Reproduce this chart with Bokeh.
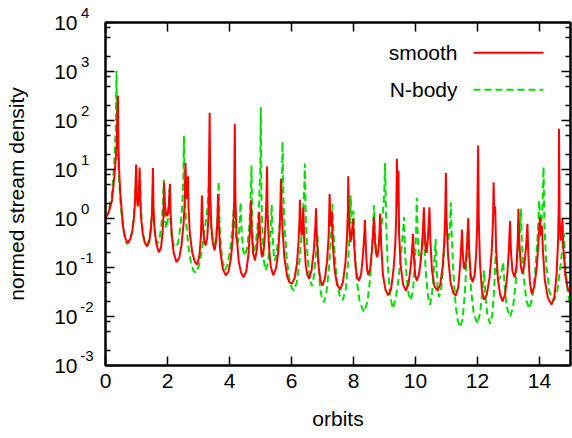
from bokeh.plotting import figure
from bokeh.models import (LogAxis, LinearAxis, FixedTicker, Label, Arrow,
                          CustomJSTickFormatter)
from bokeh.embed import file_html
from bokeh.resources import INLINE

# ---- data: (x in orbits, log10 of normed stream density) ----
smooth_points = [
    (0.00, 0.00), (0.10, 0.12), (0.21, 0.37), (0.30, 0.95), (0.36, 1.50), (0.40, 2.51), (0.42, 1.40),
    (0.45, 0.85), (0.48, 0.51), (0.53, 0.10), (0.57, -0.18), (0.64, -0.40), (0.72, -0.50), (0.80, -0.42),
    (0.86, -0.28), (0.91, -0.05), (0.95, 0.30), (0.99, 1.10), (1.01, 0.45), (1.04, 0.25), (1.07, 0.40),
    (1.10, 1.04), (1.12, 0.40), (1.15, 0.00), (1.20, -0.30), (1.27, -0.50), (1.34, -0.57), (1.41, -0.48),
    (1.46, -0.25), (1.50, 0.10), (1.53, 1.03), (1.55, 0.20), (1.58, -0.20), (1.64, -0.52), (1.72, -0.69),
    (1.79, -0.60), (1.84, -0.30), (1.87, 0.05), (1.89, 0.74), (1.92, 0.25), (1.96, 0.06), (2.00, 0.06),
    (2.04, 0.25), (2.08, 0.71), (2.10, 0.10), (2.14, -0.35), (2.20, -0.70), (2.29, -0.89), (2.38, -0.80),
    (2.45, -0.55), (2.52, -0.10), (2.56, 0.40), (2.58, 1.13), (2.61, 0.45), (2.64, 0.40), (2.66, 0.86),
    (2.68, 0.20), (2.72, -0.30), (2.80, -0.70), (2.88, -0.88), (2.96, -0.94), (3.03, -0.75), (3.08, -0.35),
    (3.11, 0.47), (3.14, -0.15), (3.19, -0.48), (3.23, -0.55), (3.28, -0.40), (3.32, 0.00), (3.36, 2.16),
    (3.38, 0.50), (3.41, -0.10), (3.46, -0.50), (3.52, -0.65), (3.57, -0.45), (3.61, -0.05), (3.63, 0.50),
    (3.66, -0.15), (3.70, -0.65), (3.78, -1.02), (3.88, -1.16), (3.97, -1.08), (4.05, -0.80), (4.11, -0.35),
    (4.15, 0.30), (4.17, 1.93), (4.19, 0.40), (4.23, -0.35), (4.30, -0.88), (4.37, -1.10), (4.45, -1.20),
    (4.54, -1.08), (4.61, -0.75), (4.66, -0.25), (4.69, 0.37), (4.72, -0.30), (4.76, -0.70), (4.82, -0.86),
    (4.88, -0.65), (4.93, -0.25), (4.96, 0.13), (4.99, -0.40), (5.03, -0.72), (5.06, -0.79), (5.11, -0.60),
    (5.16, -0.15), (5.19, 0.40), (5.21, 1.06), (5.23, 0.10), (5.27, -0.55), (5.33, -0.98), (5.41, -1.16),
    (5.50, -1.02), (5.57, -0.70), (5.62, -0.20), (5.64, 0.25), (5.66, 0.81), (5.68, 0.25), (5.71, -0.20),
    (5.77, -0.80), (5.86, -1.18), (5.93, -1.30), (6.01, -1.33), (6.10, -1.22), (6.18, -0.90), (6.23, -0.45),
    (6.26, 0.00), (6.27, 0.38), (6.30, -0.15), (6.33, -0.35), (6.36, -0.15), (6.38, 0.23), (6.41, -0.45),
    (6.46, -0.95), (6.51, -1.15), (6.57, -1.23), (6.65, -1.05), (6.72, -0.65), (6.77, -0.15), (6.79, 0.21),
    (6.82, -0.40), (6.87, -0.95), (6.93, -1.25), (7.00, -1.37), (7.08, -1.22), (7.15, -0.85), (7.20, -0.35),
    (7.23, 0.50), (7.26, -0.15), (7.28, -0.10), (7.30, 0.13), (7.33, -0.50), (7.39, -1.05), (7.47, -1.35),
    (7.57, -1.45), (7.66, -1.30), (7.74, -0.90), (7.79, -0.40), (7.82, 0.20), (7.83, 0.86), (7.86, -0.10),
    (7.90, -0.48), (7.93, -0.40), (7.97, -0.15), (7.99, 0.00), (8.02, -0.55), (8.07, -1.00), (8.12, -1.20),
    (8.18, -1.27), (8.25, -1.12), (8.31, -0.70), (8.35, -0.30), (8.37, -0.03), (8.40, -0.65), (8.44, -1.05),
    (8.48, -1.16), (8.54, -1.02), (8.60, -0.60), (8.64, -0.20), (8.66, 0.03), (8.69, -0.45), (8.73, -0.72),
    (8.77, -0.79), (8.81, -0.60), (8.84, -0.25), (8.86, 0.10), (8.89, -0.50), (8.95, -1.15), (9.03, -1.45),
    (9.12, -1.57), (9.21, -1.45), (9.29, -1.05), (9.35, -0.50), (9.38, 0.10), (9.40, 1.22), (9.42, 0.25),
    (9.44, 0.30), (9.45, 0.98), (9.47, -0.30), (9.52, -0.95), (9.60, -1.35), (9.69, -1.47), (9.78, -1.32),
    (9.85, -0.95), (9.90, -0.55), (9.92, -0.31), (9.95, -0.80), (9.99, -1.15), (10.04, -1.27), (10.11, -1.15),
    (10.18, -0.80), (10.24, -0.25), (10.27, 0.23), (10.30, -0.30), (10.33, -0.65), (10.36, -0.70), (10.40, -0.40),
    (10.43, -0.05), (10.45, 0.23), (10.48, -0.45), (10.53, -1.05), (10.61, -1.38), (10.71, -1.47), (10.80, -1.35),
    (10.88, -0.95), (10.93, -0.45), (10.96, 0.10), (10.98, 0.93), (11.00, 0.00), (11.05, -0.75), (11.13, -1.30),
    (11.22, -1.52), (11.30, -1.57), (11.38, -1.40), (11.44, -0.95), (11.48, -0.50), (11.50, -0.23), (11.53, -0.75),
    (11.56, -1.00), (11.59, -1.03), (11.63, -0.85), (11.67, -0.45), (11.70, 0.00), (11.73, -0.65), (11.78, -1.15),
    (11.84, -1.30), (11.91, -1.15), (11.96, -0.70), (11.99, -0.10), (12.02, 1.49), (12.04, 0.00), (12.08, -0.90),
    (12.14, -1.45), (12.21, -1.66), (12.30, -1.55), (12.39, -1.20), (12.46, -0.65), (12.50, -0.05), (12.52, 0.74),
    (12.54, 0.10), (12.56, 0.10), (12.57, 0.25), (12.60, -0.60), (12.66, -1.25), (12.73, -1.55), (12.81, -1.69),
    (12.89, -1.55), (12.96, -1.15), (13.01, -0.65), (13.05, -0.05), (13.08, -0.70), (13.13, -1.08), (13.20, -1.20),
    (13.26, -0.95), (13.30, -0.40), (13.32, 0.20), (13.35, -0.50), (13.40, -0.98), (13.45, -1.13), (13.51, -0.95),
    (13.57, -0.55), (13.61, -0.11), (13.64, -0.75), (13.69, -1.30), (13.75, -1.54), (13.83, -1.40), (13.91, -1.00),
    (13.97, -0.45), (14.00, -0.10), (14.02, 0.03), (14.05, -0.35), (14.07, -0.30), (14.08, -0.15), (14.11, -0.65),
    (14.17, -1.25), (14.27, -1.62), (14.39, -1.76), (14.48, -1.60), (14.55, -1.15), (14.60, -0.45), (14.62, 0.30),
    (14.63, 1.83), (14.65, 0.00), (14.68, -0.45), (14.71, -0.40), (14.74, 0.00), (14.77, -0.60), (14.83, -1.15),
    (14.91, -1.42), (15.00, -1.54)]

nbody_points = [
    (0.00, 0.00), (0.10, 0.15), (0.20, 0.45), (0.28, 1.10), (0.33, 1.80), (0.355, 3.01), (0.37, 2.00),
    (0.40, 1.30), (0.44, 0.75), (0.50, 0.20), (0.58, -0.25), (0.64, -0.45), (0.70, -0.52), (0.78, -0.45),
    (0.86, -0.25), (0.92, 0.10), (0.96, 0.45), (0.99, 1.08), (1.01, 0.45), (1.04, 0.25), (1.08, 0.35),
    (1.12, 0.94), (1.14, 0.25), (1.18, -0.15), (1.24, -0.42), (1.32, -0.55), (1.40, -0.45), (1.46, -0.20),
    (1.50, 0.10), (1.53, 0.50), (1.56, -0.05), (1.61, -0.40), (1.67, -0.52), (1.74, -0.42), (1.80, -0.15),
    (1.85, 0.25), (1.88, 0.79), (1.91, 0.10), (1.95, -0.20), (1.99, -0.15), (2.03, 0.15), (2.06, 0.61),
    (2.09, 0.00), (2.14, -0.38), (2.20, -0.55), (2.26, -0.59), (2.34, -0.50), (2.42, -0.15), (2.48, 0.30),
    (2.51, 0.80), (2.53, 1.69), (2.56, 0.45), (2.60, -0.05), (2.67, -0.55), (2.76, -0.92), (2.84, -1.07),
    (2.92, -1.11), (3.02, -0.95), (3.12, -0.60), (3.21, -0.20), (3.28, 0.15), (3.32, 0.50), (3.34, 1.01),
    (3.37, 0.10), (3.42, -0.30), (3.48, -0.50), (3.53, -0.52), (3.58, -0.30), (3.62, 0.10), (3.65, 0.76),
    (3.68, -0.10), (3.72, -0.55), (3.78, -0.90), (3.85, -1.06), (3.94, -0.95), (4.03, -0.60), (4.10, -0.15),
    (4.15, 0.33), (4.18, -0.15), (4.22, -0.45), (4.26, -0.52), (4.31, -0.30), (4.36, 0.33), (4.39, -0.25),
    (4.44, -0.65), (4.49, -0.76), (4.56, -0.62), (4.62, -0.30), (4.67, 0.15), (4.71, 1.08), (4.73, 0.00),
    (4.76, -0.55), (4.79, -0.69), (4.84, -0.55), (4.90, -0.20), (4.95, 0.25), (4.99, 0.90), (5.01, 2.27),
    (5.03, 0.40), (5.07, -0.45), (5.12, -0.92), (5.17, -1.06), (5.24, -0.90), (5.30, -0.50), (5.34, -0.05),
    (5.36, 0.28), (5.39, -0.35), (5.43, -0.75), (5.46, -0.86), (5.52, -0.70), (5.59, -0.35), (5.65, 0.15),
    (5.69, 0.70), (5.71, 1.57), (5.74, 0.40), (5.78, -0.20), (5.85, -0.85), (5.94, -1.28), (6.01, -1.42),
    (6.08, -1.47), (6.17, -1.30), (6.26, -0.85), (6.33, -0.30), (6.38, 0.20), (6.41, 0.60), (6.43, 1.12),
    (6.46, 0.00), (6.51, -0.70), (6.58, -1.20), (6.66, -1.38), (6.73, -1.15), (6.79, -0.70), (6.84, -0.35),
    (6.87, -0.90), (6.92, -1.40), (6.98, -1.63), (7.05, -1.71), (7.13, -1.50), (7.21, -1.00), (7.27, -0.40),
    (7.30, -0.05), (7.32, 0.30), (7.35, -0.25), (7.39, -0.70), (7.46, -1.25), (7.55, -1.57), (7.65, -1.67),
    (7.75, -1.45), (7.83, -0.85), (7.88, -0.25), (7.91, 0.47), (7.94, -0.05), (7.97, -0.10), (8.00, 0.16),
    (8.04, -0.60), (8.10, -1.25), (8.20, -1.70), (8.34, -1.91), (8.45, -1.70), (8.54, -1.20), (8.61, -0.55),
    (8.64, -0.10), (8.66, 0.27), (8.69, -0.30), (8.74, -0.65), (8.80, -0.60), (8.87, -0.30), (8.94, 0.05),
    (8.99, 0.50), (9.02, 1.13), (9.05, -0.05), (9.10, -0.90), (9.17, -1.50), (9.26, -1.84), (9.36, -1.65),
    (9.46, -1.20), (9.55, -0.60), (9.60, -0.25), (9.63, 0.03), (9.66, -0.65), (9.72, -1.25), (9.78, -1.55),
    (9.85, -1.67), (9.92, -1.45), (9.98, -0.95), (10.02, -0.30), (10.04, 0.43), (10.07, -0.30), (10.11, -0.75),
    (10.16, -0.85), (10.22, -0.60), (10.27, -0.18), (10.30, -0.75), (10.35, -1.25), (10.41, -1.62), (10.47, -1.76),
    (10.54, -1.50), (10.60, -0.95), (10.65, -0.42), (10.68, -1.05), (10.72, -1.45), (10.76, -1.60), (10.82, -1.48),
    (10.89, -1.05), (10.95, -0.35), (10.98, 0.27), (11.01, -0.25), (11.05, -0.45), (11.10, -0.30), (11.14, 0.33),
    (11.17, -0.35), (11.22, -1.10), (11.30, -1.80), (11.37, -2.10), (11.44, -2.22), (11.52, -2.05), (11.59, -1.55),
    (11.65, -0.85), (11.68, -0.35), (11.70, 0.03), (11.73, -0.70), (11.79, -1.45), (11.88, -1.95), (12.00, -2.15),
    (12.09, -1.90), (12.16, -1.45), (12.21, -1.06), (12.25, -1.55), (12.32, -1.98), (12.41, -2.15), (12.48, -1.95),
    (12.54, -1.40), (12.59, -0.62), (12.62, -1.05), (12.67, -1.25), (12.74, -1.20), (12.80, -1.00), (12.83, -0.89),
    (12.87, -1.35), (12.94, -1.80), (13.05, -2.01), (13.15, -1.80), (13.24, -1.25), (13.31, -0.60), (13.35, -0.10),
    (13.37, -0.30), (13.40, 0.20), (13.43, -0.45), (13.49, -1.20), (13.58, -1.68), (13.67, -1.84), (13.77, -1.62),
    (13.86, -1.10), (13.93, -0.45), (13.97, 0.00), (13.99, 0.37), (14.02, -0.05), (14.06, -0.10), (14.10, 0.30),
    (14.13, 1.05), (14.16, -0.15), (14.22, -0.95), (14.32, -1.50), (14.47, -1.67), (14.58, -1.45), (14.67, -1.00),
    (14.74, -0.60), (14.79, -0.31), (14.83, -0.90), (14.90, -1.45), (15.00, -1.81)]

series_names = ["smooth", "N-body"]
x_ticks = [0, 2, 4, 6, 8, 10, 12, 14]
y_exponents = [-3, -2, -1, 0, 1, 2, 3, 4]
y_exponent_labels = ["-3", "-2", "-1", "0", "1", "2", "3", "4"]
y_base_label = "10"
y_minor_mantissas = [2, 5, 8]

smooth_x = [pt[0] for pt in smooth_points]
smooth_y = [10 ** pt[1] for pt in smooth_points]
nbody_x = [pt[0] for pt in nbody_points]
nbody_y = [10 ** pt[1] for pt in nbody_points]
y_ticks = [10.0 ** e for e in y_exponents]
y_minor = [m * 10.0 ** e for e in y_exponents[:-1] for m in y_minor_mantissas]

FONT = "Liberation Sans"
FS = "21px"
RED = "#ff0000"
GREEN = "#00e000"

p = figure(width=572, height=438, y_axis_type="log", x_range=(0, 15), y_range=(1e-3, 1e4),
           output_backend="svg", toolbar_location=None,
           min_border_left=105, min_border_right=2, min_border_top=22, min_border_bottom=73)
p.xgrid.visible = False
p.ygrid.visible = False
p.outline_line_color = "black"
p.outline_line_width = 2
p.background_fill_color = "white"
p.border_fill_color = "white"

p.line(nbody_x, nbody_y, line_color=GREEN, line_width=2, line_dash="7 4")
p.line(smooth_x, smooth_y, line_color=RED, line_width=2)

xt = FixedTicker(ticks=x_ticks, minor_ticks=[])
yt = FixedTicker(ticks=y_ticks, minor_ticks=y_minor)
blank = CustomJSTickFormatter(code="return ''")


def style(ax):
    ax.axis_line_color = "black"
    ax.axis_line_width = 2
    ax.major_tick_in = 9
    ax.major_tick_out = 0
    ax.minor_tick_in = 5
    ax.minor_tick_out = 0
    ax.major_tick_line_width = 1.5
    ax.minor_tick_line_width = 1.5
    ax.major_label_text_font = FONT
    ax.major_label_text_font_size = FS
    ax.major_label_text_color = "black"
    ax.axis_label_text_font = FONT
    ax.axis_label_text_font_size = FS
    ax.axis_label_text_font_style = "normal"
    ax.axis_label_text_color = "black"


def label_only(ax):
    style(ax)
    ax.axis_line_color = None
    ax.major_tick_line_color = None
    ax.minor_tick_line_color = None
    ax.major_tick_in = 0
    ax.minor_tick_in = 0


xa = p.xaxis[0]
xa.ticker = xt
style(xa)
xa.minor_tick_line_color = None
xa.major_label_standoff = 8
xa.axis_label = "orbits"
xa.axis_label_standoff = 16

# frame-side y axis: ticks only
ya = p.yaxis[0]
ya.ticker = yt
style(ya)
ya.formatter = blank
ya.major_label_text_font_size = "0px"
ya.major_label_standoff = 0

# exponents (raised by an empty second line), then the base "10" further out
exp_axis = LogAxis(ticker=FixedTicker(ticks=y_ticks, minor_ticks=[]),
                   formatter=CustomJSTickFormatter(
                       args=dict(exps=y_exponents, labels=y_exponent_labels),
                       code=("const e = Math.round(Math.log10(tick)); "
                             "const s = labels[exps.indexOf(e)]; "
                             "return (s.startsWith('-') ? s : s + '\\u2008') + '\\n';")))
label_only(exp_axis)
exp_axis.major_label_text_font_size = "15px"
exp_axis.major_label_standoff = 12
p.add_layout(exp_axis, "left")

base_axis = LogAxis(ticker=FixedTicker(ticks=y_ticks, minor_ticks=[]),
                    formatter=CustomJSTickFormatter(args=dict(base=y_base_label), code="return base;"))
label_only(base_axis)
base_axis.major_label_standoff = 0
base_axis.axis_label = "normed stream density"
base_axis.axis_label_standoff = 23
p.add_layout(base_axis, "left")

top = LinearAxis(ticker=xt, formatter=blank)
style(top)
top.minor_tick_line_color = None
top.major_label_text_font_size = "0px"
top.major_label_standoff = 0
p.add_layout(top, "above")

right = LogAxis(ticker=yt, formatter=blank)
style(right)
right.major_label_text_font_size = "0px"
right.major_label_standoff = 0
p.add_layout(right, "right")

# legend (label left, sample line right), placed in screen units
for name, col, dash, sy in [(series_names[0], RED, "solid", 312.7), (series_names[1], GREEN, "7 4", 275.7)]:
    p.add_layout(Label(x=352, y=sy, x_units="screen", y_units="screen", text=name,
                       text_align="right", text_baseline="middle", text_font=FONT,
                       text_font_size=FS, text_color="black"))
    p.add_layout(Arrow(x_start=368, y_start=sy, x_end=438, y_end=sy,
                       start_units="screen", end_units="screen", start=None, end=None,
                       line_color=col, line_width=2, line_dash=dash))

open("out.html", "w").write(file_html(p, INLINE))
